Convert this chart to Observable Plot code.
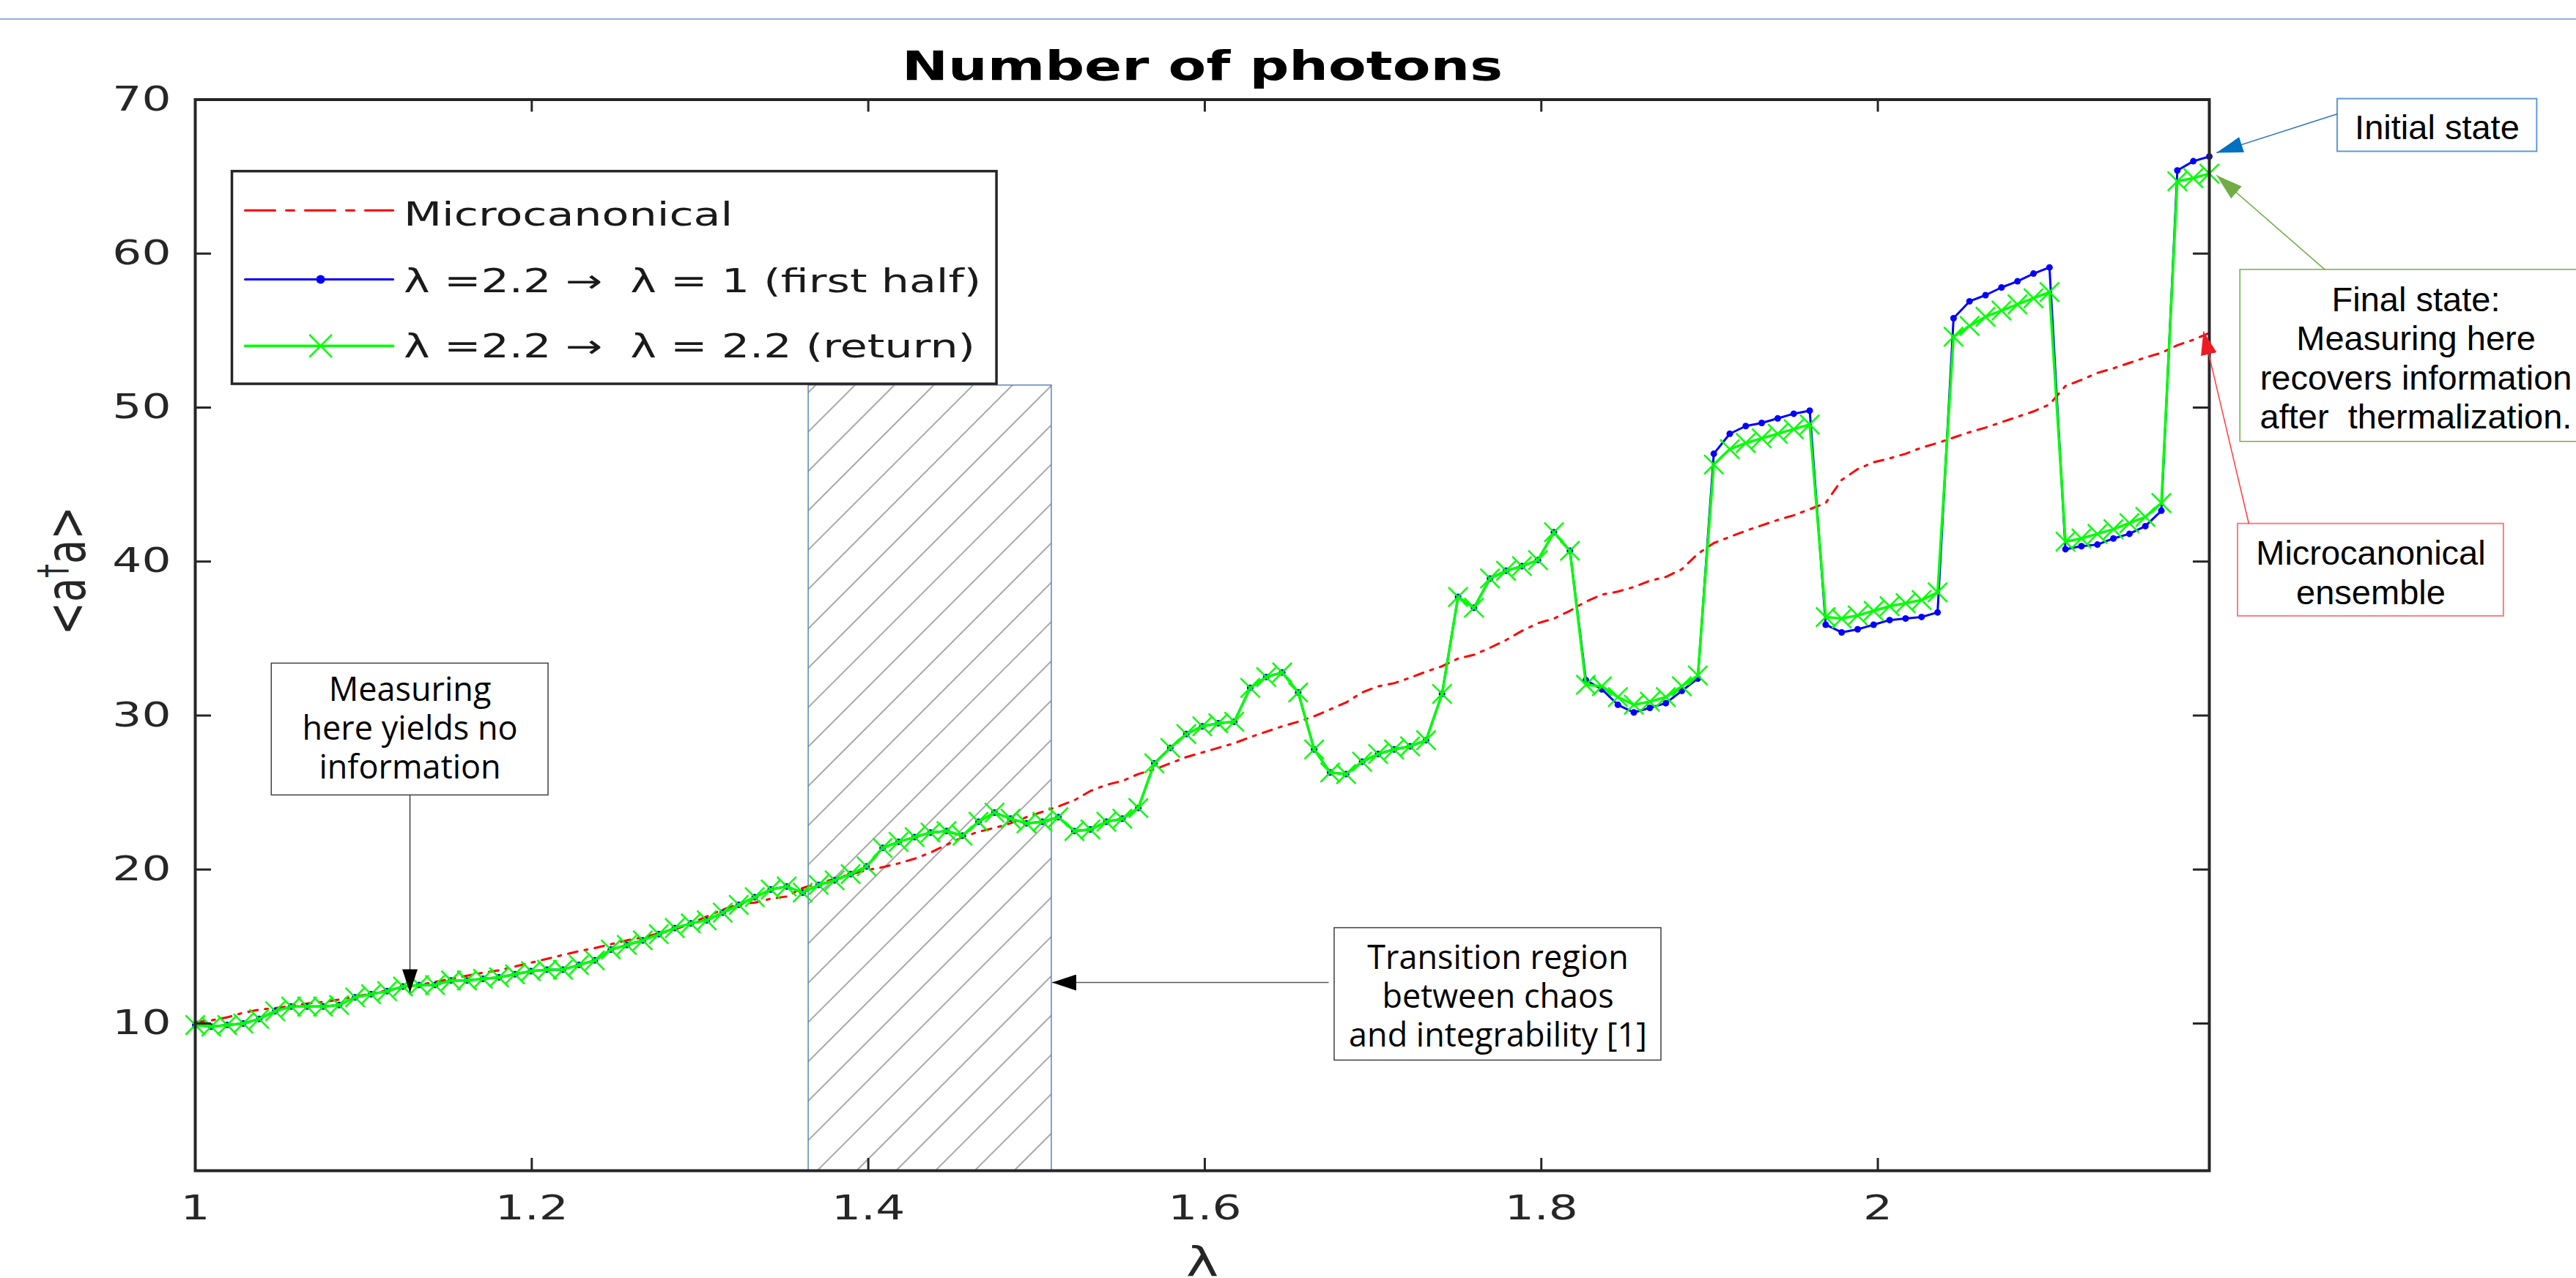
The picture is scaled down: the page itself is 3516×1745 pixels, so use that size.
<!DOCTYPE html>
<html>
<head>
<meta charset="utf-8">
<script src="https://cdn.jsdelivr.net/npm/d3@7"></script>
<script src="https://cdn.jsdelivr.net/npm/@observablehq/plot@0.6"></script>
<style>
html, body { margin: 0; padding: 0; background: #fff; overflow: hidden; }
#wrap { position: relative; width: 3516px; height: 1745px; }
#wrap svg { display: block; overflow: hidden; }
#topline { position: absolute; left: 0; top: 25px; width: 3516px; height: 2px; background: #8fb3dd; z-index: 2; }
</style>
</head>
<body>
<div id="wrap"><div id="topline"></div></div>
<script>
// ---------------- data ----------------
const lambda = [
  1.0000, 1.0095, 1.0190, 1.0285, 1.0380, 1.0475, 1.0570, 1.0665, 1.0760, 1.0855,
  1.0950, 1.1045, 1.1140, 1.1235, 1.1330, 1.1425, 1.1520, 1.1615, 1.1710, 1.1805,
  1.1900, 1.1995, 1.2090, 1.2185, 1.2280, 1.2375, 1.2470, 1.2565, 1.2660, 1.2755,
  1.2850, 1.2945, 1.3040, 1.3135, 1.3230, 1.3325, 1.3420, 1.3515, 1.3610, 1.3705,
  1.3800, 1.3895, 1.3990, 1.4085, 1.4180, 1.4275, 1.4370, 1.4465, 1.4560, 1.4655,
  1.4750, 1.4845, 1.4940, 1.5035, 1.5130, 1.5225, 1.5320, 1.5415, 1.5510, 1.5605,
  1.5700, 1.5795, 1.5890, 1.5985, 1.6080, 1.6175, 1.6270, 1.6365, 1.6460, 1.6555,
  1.6650, 1.6745, 1.6840, 1.6935, 1.7030, 1.7125, 1.7220, 1.7315, 1.7410, 1.7505,
  1.7600, 1.7695, 1.7790, 1.7885, 1.7980, 1.8075, 1.8170, 1.8265, 1.8360, 1.8455,
  1.8550, 1.8645, 1.8740, 1.8835, 1.8930, 1.9025, 1.9120, 1.9215, 1.9310, 1.9405,
  1.9500, 1.9595, 1.9690, 1.9785, 1.9880, 1.9975, 2.0070, 2.0165, 2.0260, 2.0355,
  2.0450, 2.0545, 2.0640, 2.0735, 2.0830, 2.0925, 2.1020, 2.1115, 2.1210, 2.1305,
  2.1400, 2.1495, 2.1590, 2.1685, 2.1780, 2.1875, 2.1970
];
const microcanonical = [
  10.1, 10.2, 10.4, 10.7, 10.9, 11.0, 11.15, 11.3, 11.4, 11.55,
  11.75, 11.95, 12.15, 12.35, 12.5, 12.7, 12.9, 13.1, 13.3, 13.45,
  13.7, 13.95, 14.2, 14.45, 14.7, 14.9, 15.15, 15.4, 15.6, 15.85,
  16.1, 16.5, 16.95, 17.4, 17.75, 17.85, 18.1, 18.25, 18.8, 19.1,
  19.4, 19.7, 19.95, 20.15, 20.4, 20.7, 21.1, 21.6, 22.1, 22.45,
  22.7, 23.0, 23.4, 23.75, 24.1, 24.5, 25.1, 25.5, 25.75, 26.2,
  26.5, 26.9, 27.3, 27.6, 27.9, 28.2, 28.6, 28.95, 29.3, 29.6,
  29.95, 30.4, 30.85, 31.5, 31.9, 32.1, 32.45, 32.85, 33.2, 33.7,
  33.95, 34.4, 34.9, 35.5, 36.0, 36.3, 36.8, 37.4, 37.85, 38.05,
  38.35, 38.75, 39.0, 39.5, 40.5, 41.2, 41.6, 42.0, 42.35, 42.7,
  43.0, 43.4, 43.8, 45.3, 46.0, 46.45, 46.7, 47.0, 47.4, 47.7,
  48.05, 48.4, 48.7, 49.05, 49.4, 49.75, 50.2, 51.4, 51.8, 52.25,
  52.55, 52.9, 53.25, 53.55, 54.05, 54.4, 54.85
];
const firstHalf = [
  9.9, 9.8, 9.9, 10.0, 10.3, 10.8, 11.1, 11.1, 11.1, 11.2,
  11.7, 11.9, 12.1, 12.4, 12.5, 12.5, 12.8, 12.8, 12.9, 13.0,
  13.2, 13.4, 13.5, 13.5, 13.8, 14.1, 14.8, 15.1, 15.4, 15.8,
  16.2, 16.5, 16.7, 17.2, 17.7, 18.2, 18.7, 18.9, 18.5, 19.0,
  19.3, 19.7, 20.2, 21.4, 21.8, 22.1, 22.4, 22.5, 22.2, 23.1,
  23.7, 23.3, 23.0, 23.1, 23.4, 22.5, 22.6, 23.1, 23.3, 24.0,
  26.9, 27.9, 28.8, 29.3, 29.5, 29.6, 31.8, 32.5, 32.8, 31.5,
  27.8, 26.3, 26.2, 27.0, 27.5, 27.8, 28.0, 28.4, 31.4, 37.7,
  37.0, 38.9, 39.4, 39.7, 40.1, 41.9, 40.7, 32.3, 31.7, 30.7,
  30.2, 30.5, 30.8, 31.6, 32.4, 47.0, 48.3, 48.8, 49.0, 49.3,
  49.6, 49.8, 35.9, 35.4, 35.6, 35.9, 36.2, 36.3, 36.4, 36.7,
  55.8, 56.9, 57.3, 57.8, 58.2, 58.7, 59.1, 40.8, 41.0, 41.1,
  41.5, 41.8, 42.3, 43.3, 65.4, 66.0, 66.3
];
const returnTrip = [
  9.9, 9.8, 9.9, 10.0, 10.3, 10.8, 11.1, 11.1, 11.1, 11.2,
  11.7, 11.9, 12.1, 12.4, 12.5, 12.5, 12.8, 12.8, 12.9, 13.0,
  13.2, 13.4, 13.5, 13.5, 13.8, 14.1, 14.8, 15.1, 15.4, 15.8,
  16.2, 16.5, 16.7, 17.2, 17.7, 18.2, 18.7, 18.9, 18.5, 19.0,
  19.3, 19.7, 20.2, 21.4, 21.8, 22.1, 22.4, 22.5, 22.2, 23.1,
  23.7, 23.3, 23.0, 23.1, 23.4, 22.5, 22.6, 23.1, 23.3, 24.0,
  26.9, 27.9, 28.8, 29.3, 29.5, 29.6, 31.8, 32.5, 32.8, 31.5,
  27.8, 26.3, 26.2, 27.0, 27.5, 27.8, 28.0, 28.4, 31.4, 37.7,
  37.0, 38.9, 39.4, 39.7, 40.1, 41.9, 40.7, 32.0, 31.9, 31.2,
  30.7, 30.9, 31.2, 31.9, 32.6, 46.3, 47.3, 47.7, 48.0, 48.3,
  48.6, 48.9, 36.4, 36.3, 36.5, 36.8, 37.1, 37.3, 37.5, 38.0,
  54.6, 55.3, 55.9, 56.3, 56.7, 57.1, 57.5, 41.3, 41.5, 41.8,
  42.1, 42.5, 42.9, 43.8, 64.7, 64.9, 65.2
];
const xTicks = [1, 1.2, 1.4, 1.6, 1.8, 2];
const yTicks = [10, 20, 30, 40, 50, 60, 70];
const seriesLabels = ["Microcanonical", "λ =2.2 →  λ = 1 (first half)", "λ =2.2 →  λ = 2.2 (return)"];
const titleText = "Number of photons";
const xLabel = "λ";
const yLabel = "<a†a>";
const noteMeasuring = "Measuring\nhere yields no\ninformation";
const noteTransition = "Transition region\nbetween chaos\nand integrability [1]";
const noteInitial = "Initial state";
const noteFinal = "Final state:\nMeasuring here\nrecovers information\nafter  thermalization.";
const noteMicro = "Microcanonical\nensemble";

// ---------------- layout (data coordinates) ----------------
const band = {x1: 1.3645, x2: 1.5090, y1: 0.44, y2: 51.44};
const legendBox = {x1: 1.0220, x2: 1.4764, y1: 51.52, y2: 65.33};
const legendLineX = [1.0296, 1.1176];
const legendMarkX = 1.0745;
const legendTextX = 1.1239;
const legendRowY = [62.81, 58.32, 54.01];
const legendTextY = [62.49, 58.15, 53.93];
const boxMeasuring = {x1: 1.0454, x2: 1.2099, y1: 24.82, y2: 33.38};
const posMeasuring = {x: 1.1276, y: 29.23};
const arrowMeasuring = {x1: 1.1276, y1: 24.82, x2: 1.1276, y2: 12.0};
const boxTransition = {x1: 1.6771, x2: 1.8713, y1: 7.60, y2: 16.20};
const posTransition = {x: 1.7742, y: 11.83};
const arrowTransition = {x1: 1.6736, y1: 12.66, x2: 1.5092, y2: 12.66};
const boxInitial = {x1: 2.2732, x2: 2.3918, y1: 66.62, y2: 70.04};
const posInitial = {x: 2.3324, y: 68.22};
const arrowInitial = {x1: 2.2732, y1: 69.07, x2: 2.2013, y2: 66.55};
const boxFinal = {x1: 2.2154, x2: 2.4243, y1: 47.78, y2: 58.95};
const posFinal = {x: 2.3198, y: 53.26};
const arrowFinal = {x1: 2.2658, y1: 58.95, x2: 2.2013, y2: 65.09};
const boxMicro = {x1: 2.2140, x2: 2.3720, y1: 36.45, y2: 42.45};
const posMicro = {x: 2.2930, y: 39.34};
const arrowMicro = {x1: 2.2205, y1: 42.45, x2: 2.1935, y2: 54.95};

// ---------------- chart ----------------
const W = 3516, H = 1745;
const mL = 266, mR = 501, mT = 135.5, mB = 147;
const innerW = W - mL - mR, innerH = H - mT - mB;
const axisColor = "#262626";
const RED = "#ff0000", BLUE = "#0000ff", GREEN = "#00ff00";

const rows = lambda.map((x, i) => ({x, micro: microcanonical[i], first: firstHalf[i], ret: returnTrip[i]}));

function head(fill, len = 34, half = 11) {
  return () => {
    const ns = "http://www.w3.org/2000/svg";
    const m = document.createElementNS(ns, "marker");
    m.setAttribute("viewBox", `${-len} ${-half} ${len} ${2 * half}`);
    m.setAttribute("markerWidth", len);
    m.setAttribute("markerHeight", 2 * half);
    m.setAttribute("markerUnits", "userSpaceOnUse");
    m.setAttribute("refX", 0);
    m.setAttribute("refY", 0);
    m.setAttribute("orient", "auto");
    const p = document.createElementNS(ns, "path");
    p.setAttribute("d", `M0,0L${-len},${-half}L${-len},${half}Z`);
    p.setAttribute("fill", fill);
    p.setAttribute("stroke", "none");
    m.appendChild(p);
    return m;
  };
}
const box = (b, stroke, sw) => Plot.rect([b], {x1: "x1", x2: "x2", y1: "y1", y2: "y2", fill: "white", stroke, strokeWidth: sw});
const link = (a, stroke, sw, headFill, len, half) => Plot.link([a], {x1: "x1", y1: "y1", x2: "x2", y2: "y2", stroke, strokeWidth: sw, markerEnd: head(headFill, len, half)});
const note = (p, text, family, size, lh) => Plot.text([{...p, text}], {x: "x", y: "y", text: "text", fontFamily: family, fontSize: size, lineHeight: lh, lineAnchor: "middle", textAnchor: "middle", fill: "#000"});

const chart = Plot.plot({
  width: W, height: H,
  marginLeft: mL, marginRight: mR, marginTop: mT, marginBottom: mB,
  style: {fontFamily: "DejaVu Sans", fontSize: "46px", color: axisColor, background: "#fff"},
  x: {domain: [1, 2.197], ticks: xTicks, tickFormat: d => String(d), tickSize: 0, tickPadding: 34, label: null},
  y: {domain: [0.44, 70], ticks: yTicks, tickFormat: d => String(d), tickSize: 0, tickPadding: 33, label: null},
  marks: [
    // transition band
    Plot.rect([band], {x1: "x1", x2: "x2", y1: "y1", y2: "y2", fill: "url(#hatch)", stroke: "#5a84bf", strokeWidth: 1.5}),
    // series
    Plot.line(rows, {x: "x", y: "micro", stroke: RED, strokeWidth: 3, strokeDasharray: "13,10,4,10"}),
    Plot.line(rows, {x: "x", y: "first", stroke: BLUE, strokeWidth: 3}),
    Plot.dot(rows, {x: "x", y: "first", r: 4.5, fill: BLUE, stroke: "none"}),
    Plot.line(rows, {x: "x", y: "ret", stroke: GREEN, strokeWidth: 3.5}),
    Plot.dot(rows, {x: "x", y: "ret", symbol: "times", r: 12, fill: "none", stroke: GREEN, strokeWidth: 2.5}),
    // inward ticks
    Plot.tickX(xTicks.slice(1), {stroke: axisColor, strokeWidth: 3, insetTop: innerH - 17}),
    Plot.tickX(xTicks.slice(1), {stroke: axisColor, strokeWidth: 3, insetBottom: innerH - 17}),
    Plot.tickY(yTicks.slice(0, -1), {stroke: axisColor, strokeWidth: 3, insetRight: innerW - 22}),
    Plot.tickY(yTicks.slice(0, -1), {stroke: axisColor, strokeWidth: 3, insetLeft: innerW - 22}),
    Plot.frame({stroke: axisColor, strokeWidth: 4}),
    // legend
    Plot.rect([legendBox], {x1: "x1", x2: "x2", y1: "y1", y2: "y2", fill: "white", stroke: axisColor, strokeWidth: 3.5}),
    Plot.line(legendLineX.map(x => [x, legendRowY[0]]), {stroke: RED, strokeWidth: 3, strokeDasharray: "41,15,11,15"}),
    Plot.line(legendLineX.map(x => [x, legendRowY[1]]), {stroke: BLUE, strokeWidth: 3}),
    Plot.dot([[legendMarkX, legendRowY[1]]], {r: 6, fill: BLUE, stroke: "none"}),
    Plot.line(legendLineX.map(x => [x, legendRowY[2]]), {stroke: GREEN, strokeWidth: 3.5}),
    Plot.dot([[legendMarkX, legendRowY[2]]], {symbol: "times", r: 14, fill: "none", stroke: GREEN, strokeWidth: 2.5}),
    Plot.text(seriesLabels.map((label, i) => ({label, y: legendTextY[i]})), {x: () => legendTextX, y: "y", text: "label", textAnchor: "start", lineAnchor: "middle", fontSize: 44, fill: "#1a1a1a"}),
    // titles
    Plot.text([titleText], {frameAnchor: "top", dy: -45, lineAnchor: "middle", fontSize: 55, fontWeight: "bold", fill: "#000"}),
    Plot.text([xLabel], {frameAnchor: "bottom", dy: 126, lineAnchor: "middle", fontSize: 55, fill: axisColor}),
    Plot.text([yLabel], {frameAnchor: "left", dx: -174, rotate: -90, lineAnchor: "middle", fontSize: 54, fill: axisColor}),
    // annotations
    box(boxMeasuring, "#404040", 1.5),
    note(posMeasuring, noteMeasuring, "Open Sans", 45, 1.178),
    link(arrowMeasuring, "#404040", 1.5, "#000", 32, 10.5),
    box(boxTransition, "#404040", 1.5),
    note(posTransition, noteTransition, "Open Sans", 45, 1.178),
    link(arrowTransition, "#595959", 1.5, "#000", 33, 11),
    box(boxInitial, "#5b9bd5", 2),
    note(posInitial, noteInitial, "Liberation Sans", 47, 1.13),
    link(arrowInitial, "#2e75b6", 1.5, "#0070c0", 36, 11),
    box(boxFinal, "#70ad47", 1.5),
    note(posFinal, noteFinal, "Liberation Sans", 47, 1.13),
    link(arrowFinal, "#70ad47", 1.5, "#70ad47", 36, 11),
    box(boxMicro, "#ff7c80", 2),
    note(posMicro, noteMicro, "Liberation Sans", 47, 1.14),
    link(arrowMicro, "#ff3b3b", 1.5, "#ed1c24", 32, 11)
  ]
});

document.getElementById("wrap").appendChild(chart);

// hatch pattern definition
const NS = "http://www.w3.org/2000/svg";
const defs = document.createElementNS(NS, "defs");
const pat = document.createElementNS(NS, "pattern");
pat.setAttribute("id", "hatch");
pat.setAttribute("patternUnits", "userSpaceOnUse");
pat.setAttribute("width", "38");
pat.setAttribute("height", "38");
pat.setAttribute("patternTransform", "rotate(45)");
const bg = document.createElementNS(NS, "rect");
bg.setAttribute("width", "38"); bg.setAttribute("height", "38"); bg.setAttribute("fill", "#fff");
const hl = document.createElementNS(NS, "line");
hl.setAttribute("x1", "19"); hl.setAttribute("x2", "19"); hl.setAttribute("y1", "0"); hl.setAttribute("y2", "38");
hl.setAttribute("stroke", "#7a7a7a"); hl.setAttribute("stroke-width", "1.3");
pat.appendChild(bg); pat.appendChild(hl);
defs.appendChild(pat);
chart.insertBefore(defs, chart.firstChild);

// y label with superscript dagger, widened like the stretched original
chart.querySelectorAll("text").forEach(t => {
  if (t.textContent === yLabel) {
    t.textContent = "";
    t.appendChild(document.createTextNode("<a"));
    const sup = document.createElementNS(NS, "tspan");
    sup.setAttribute("dy", "-20"); sup.setAttribute("font-size", "38"); sup.textContent = "†";
    const rest = document.createElementNS(NS, "tspan");
    rest.setAttribute("dy", "20"); rest.textContent = "a>";
    t.appendChild(sup); t.appendChild(rest);
    const tr = t.getAttribute("transform") || "";
    if (tr.includes("rotate")) t.setAttribute("transform", tr.replace("rotate", "scale(1.37,1) rotate"));
    t.dataset.skip = "1";
  }
});

// horizontally widen the figure's own texts (the original figure was stretched)
chart.querySelectorAll("text").forEach(t => {
  if (t.dataset.skip) return;
  if (t.querySelector("tspan")) return;
  const ff = getComputedStyle(t).fontFamily || "";
  if (!/DejaVu/i.test(ff)) return;
  const len = t.getComputedTextLength();
  if (len > 0) {
    t.setAttribute("textLength", (len * 1.37).toFixed(1));
    t.setAttribute("lengthAdjust", "spacingAndGlyphs");
  }
});
</script>
</body>
</html>
